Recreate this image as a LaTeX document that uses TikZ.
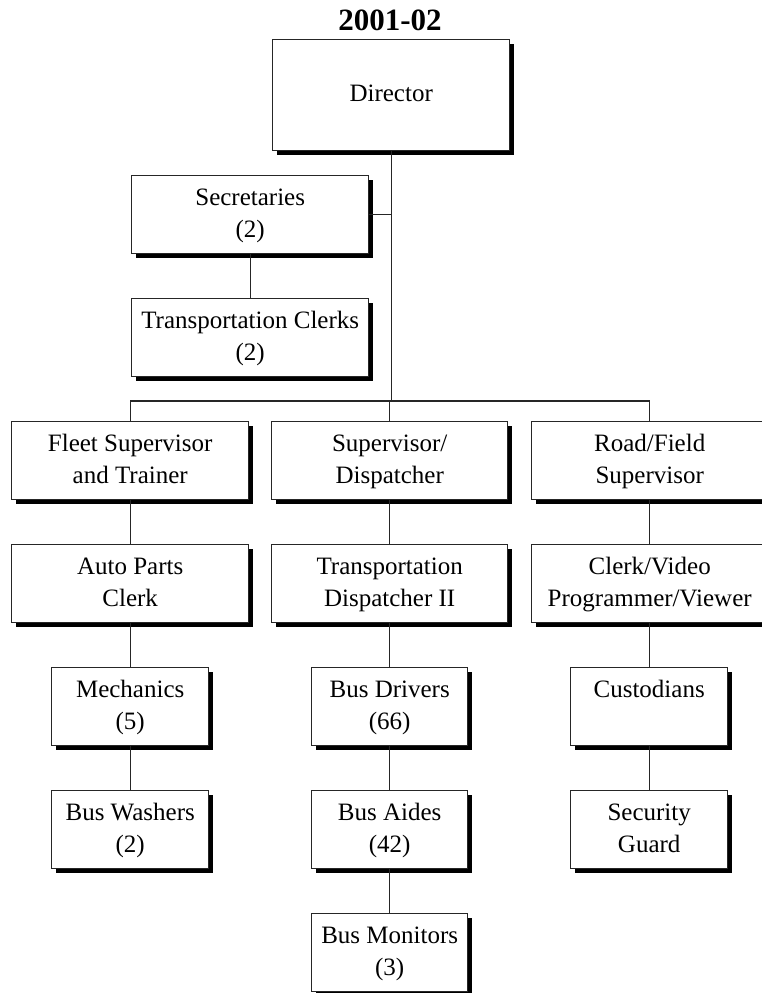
\documentclass[tikz,border=0pt]{standalone}
\usepackage{fontspec}
\setmainfont{Liberation Serif}
\usetikzlibrary{shadows}
\newcommand\boxline[1]{\strut #1}
% lines of the right-hand boxes, which run off the page edge
\newcommand\edgeline[1]{\strut #1\hspace*{40pt}}
\begin{document}
\begin{tikzpicture}[x=1pt,y=-1pt,
  box/.style={draw=black!85, line width=1.4pt, fill=white, anchor=north west,
    inner sep=0pt, align=center, minimum height=78pt,
    font=\fontsize{25}{32}\selectfont,
    general shadow={fill=black, shadow xshift=4pt, shadow yshift=-4pt}},
  wide/.style={box, minimum width=237pt},
  narrow/.style={box, minimum width=156pt},
  edgebox/.style={box, minimum width=276pt},
  link/.style={draw=black!85, line width=1.4pt}]
\useasboundingbox (0,0) rectangle (762,993);
\fill[white] (0,0) rectangle (762,993);

% heading
\node[font=\fontsize{31}{36}\selectfont\bfseries, anchor=base] (title) at (390,30) {2001-02};

% top of the chart
\node[wide, minimum height=111pt] (dir) at (272,39) {\boxline{Director}};
\node[wide] (sec) at (131,175) {\boxline{Secretaries}\\\boxline{(2)}};
\node[wide] (clk) at (131,298) {\boxline{Transportation Clerks}\\\boxline{(2)}};

% first row of branches
\node[wide] (fleet) at (11,421) {\boxline{Fleet Supervisor}\\\boxline{and Trainer}};
\node[wide, minimum width=236pt] (sup) at (271,421) {\boxline{Supervisor/}\\\boxline{Dispatcher}};
\node[edgebox] (road) at (531,421) {\edgeline{Road/Field}\\\edgeline{Supervisor}};

% second row
\node[wide] (auto) at (11,544) {\boxline{Auto Parts}\\\boxline{Clerk}};
\node[wide, minimum width=236pt] (disp) at (271,544) {\boxline{Transportation}\\\boxline{Dispatcher II}};
\node[edgebox] (video) at (531,544) {\edgeline{Clerk/Video}\\\edgeline{Programmer/Viewer}};

% third row
\node[narrow, minimum width=157pt] (mech) at (51,667) {\boxline{Mechanics}\\\boxline{(5)}};
\node[narrow] (drv) at (311,667) {\boxline{Bus Drivers}\\\boxline{(66)}};
\node[narrow, minimum width=157pt] (cust) at (570,667) {\boxline{Custodians}\\\strut};

% fourth row
\node[narrow, minimum width=157pt] (wash) at (51,790) {\boxline{Bus Washers}\\\boxline{(2)}};
\node[narrow] (aide) at (311,790) {\boxline{Bus Aides}\\\boxline{(42)}};
\node[narrow, minimum width=157pt] (guard) at (570,790) {\boxline{Security}\\\boxline{Guard}};

% fifth row
\node[narrow] (mon) at (311,913) {\boxline{Bus Monitors}\\\boxline{(3)}};

% connectors
\coordinate (bar) at (0,401);
\path[link] (dir.south) -- (dir.south |- bar);
\path[link] (sec.east) -- (sec.east -| dir.south);
\path[link] (sec.south) -- (clk.north);
\path[link] (fleet.north) -- (fleet.north |- bar) -- (cust.north |- bar) -- (cust.north |- road.north);
\path[link] (sup.north) -- (sup.north |- bar);
\path[link] (fleet.south) -- (auto.north);
\path[link] (auto.south) -- (mech.north);
\path[link] (mech.south) -- (wash.north);
\path[link] (sup.south) -- (disp.north);
\path[link] (disp.south) -- (drv.north);
\path[link] (drv.south) -- (aide.north);
\path[link] (aide.south) -- (mon.north);
\path[link] (cust.north |- road.south) -- (cust.north |- video.north);
\path[link] (cust.north |- video.south) -- (cust.north);
\path[link] (cust.south) -- (guard.north);
\end{tikzpicture}
\end{document}
